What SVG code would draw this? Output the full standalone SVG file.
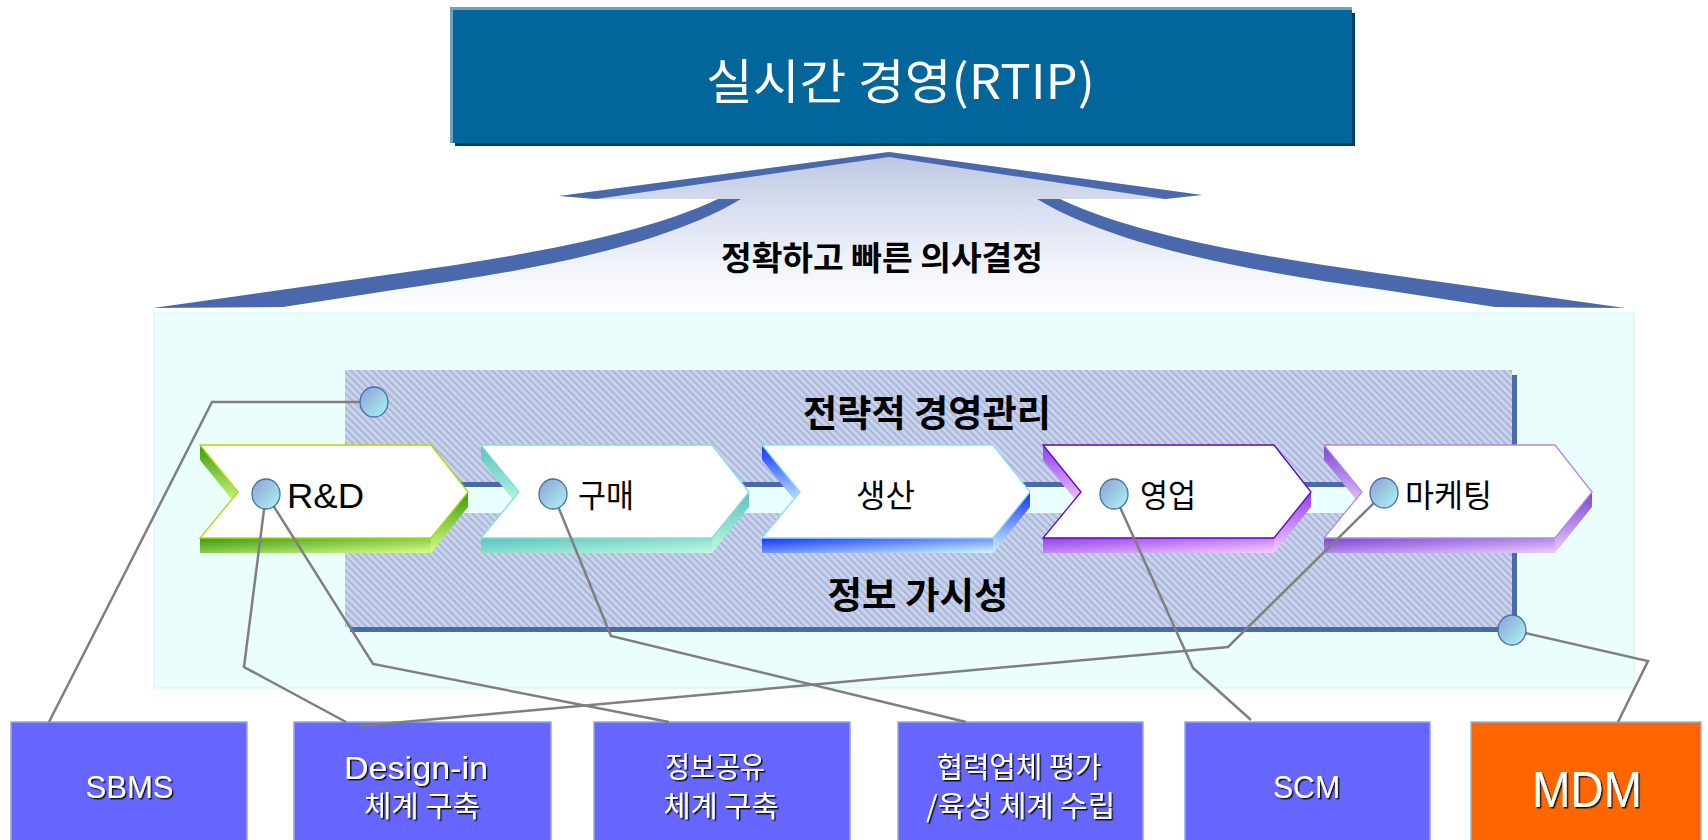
<svg xmlns="http://www.w3.org/2000/svg" width="1708" height="840" viewBox="0 0 1708 840">
<defs>
<style>
.kr { font-family: "Noto Sans CJK KR", "Liberation Sans", sans-serif; }
.lat { font-family: "Liberation Sans", "Noto Sans CJK KR", sans-serif; }
.conn { fill: none; stroke: #7F7F7F; stroke-width: 2.5; stroke-linejoin: miter; }
.dot { fill: url(#dotGrad); stroke: #4A6AAA; stroke-width: 1.3; }
.box { fill: #6666FF; stroke: #97A5EE; stroke-width: 1.5; }
.boxtxt { fill: #FFFFFF; filter: url(#tshadow); }
.band { fill: #4A69AD; }
.front { fill: #FFFFFF; stroke-width: 1.3; }
.bar { fill: #EAFFFF; }
.barTop { fill: #4A6AAA; }
</style>
<filter id="tshadow" x="-10%" y="-20%" width="125%" height="150%">
  <feDropShadow dx="1.5" dy="1.5" stdDeviation="0" flood-color="#000000" flood-opacity="0.85"/>
</filter>
<linearGradient id="arrowGrad" gradientUnits="userSpaceOnUse" x1="0" y1="152" x2="0" y2="310">
  <stop offset="0" stop-color="#BCC6E2"/>
  <stop offset="0.3" stop-color="#D4DBEE"/>
  <stop offset="0.7" stop-color="#F1F3FA"/>
  <stop offset="1" stop-color="#FFFFFF"/>
</linearGradient>
<linearGradient id="dotGrad" x1="0" y1="0" x2="1" y2="1">
  <stop offset="0" stop-color="#8AA0D4"/>
  <stop offset="1" stop-color="#AEF6F4"/>
</linearGradient>
<pattern id="hatch" patternUnits="userSpaceOnUse" width="5" height="10" patternTransform="rotate(-45)">
  <rect x="0" y="0" width="5" height="10" fill="#CAD3EA"/>
  <rect x="0" y="0" width="2" height="10" fill="#A9B7DC"/>
</pattern>
<!-- chevron gradients -->
<linearGradient id="gBandRD" x1="0" y1="0" x2="1" y2="1"><stop offset="0" stop-color="#3A9A10"/><stop offset="1" stop-color="#D8FF88"/></linearGradient>
<linearGradient id="gSideRD" x1="0" y1="0" x2="0" y2="1"><stop offset="0" stop-color="#3A9A10"/><stop offset="1" stop-color="#D8FF88"/></linearGradient>
<linearGradient id="gBandGM" x1="0" y1="0" x2="1" y2="1"><stop offset="0" stop-color="#55C2BE"/><stop offset="1" stop-color="#C2FAE0"/></linearGradient>
<linearGradient id="gSideGM" x1="0" y1="0" x2="0" y2="1"><stop offset="0" stop-color="#55C2BE"/><stop offset="1" stop-color="#C2FAE0"/></linearGradient>
<linearGradient id="gBandSS" x1="0" y1="0" x2="1" y2="1"><stop offset="0" stop-color="#1030FF"/><stop offset="1" stop-color="#D0F8FF"/></linearGradient>
<linearGradient id="gSideSS" x1="0" y1="0" x2="0" y2="1"><stop offset="0" stop-color="#1030FF"/><stop offset="1" stop-color="#D0F8FF"/></linearGradient>
<linearGradient id="gBandYU" x1="0" y1="0" x2="1" y2="1"><stop offset="0" stop-color="#9040E8"/><stop offset="1" stop-color="#F6CCFF"/></linearGradient>
<linearGradient id="gSideYU" x1="0" y1="0" x2="0" y2="1"><stop offset="0" stop-color="#9040E8"/><stop offset="1" stop-color="#F6CCFF"/></linearGradient>
<linearGradient id="gBandMK" x1="0" y1="0" x2="1" y2="1"><stop offset="0" stop-color="#7A44D2"/><stop offset="1" stop-color="#EACCFF"/></linearGradient>
<linearGradient id="gSideMK" x1="0" y1="0" x2="0" y2="1"><stop offset="0" stop-color="#7A44D2"/><stop offset="1" stop-color="#EACCFF"/></linearGradient>
</defs>

<rect x="0" y="0" width="1708" height="840" fill="#FFFFFF"/>

<!-- Top box -->
<g id="rtip">
  <rect x="455" y="13" width="900" height="133" fill="#033E62"/>
  <rect x="450" y="7" width="902" height="136" fill="#6AA2C3"/>
  <rect x="453" y="10" width="899" height="133" fill="#03669A"/>
  <text class="kr" x="900.5" y="99" font-size="48" fill="#FFFFFF" text-anchor="middle" textLength="389" lengthAdjust="spacingAndGlyphs">실시간 경영(RTIP)</text>
</g>

<!-- Big arrow -->
<g id="decision-arrow">
  <path d="M889,152 L1202,195 L1165,199 L1037,199 C1118,248 1258,272 1378,289 L1495,307 L1625,310 L153,310 L283,307 L400,289 C520,272 660,248 741,199 L596,199 L559,196 Z" fill="url(#arrowGrad)"/>
  <path class="band" d="M559,196 L889,152 L1202,195 L1165,199 L889,157 L596,199 Z"/>
  <path class="band" d="M153,308 L400,273 C520,256 640,236 718,199 L741,199 C660,248 520,272 400,289 L283,307 Z"/>
  <path class="band" d="M1625,308 L1378,273 C1258,256 1138,236 1060,199 L1037,199 C1118,248 1258,272 1378,289 L1495,307 Z"/>
  <text class="kr" x="882" y="270" font-size="33" font-weight="bold" fill="#000000" text-anchor="middle" textLength="322" lengthAdjust="spacingAndGlyphs">정확하고 빠른 의사결정</text>
</g>

<!-- Cyan panel -->
<g id="panel">
  <rect x="154" y="313" width="1480" height="375" fill="#EAFEFE" stroke="#CDF6FA" stroke-width="1"/>
</g>

<!-- Hatched management area -->
<g id="mgmt-area">
  <rect x="350" y="375" width="1167" height="257" fill="#4A6AAA"/>
  <rect x="345" y="370" width="1167" height="257" fill="url(#hatch)"/>
  <text class="kr" x="927" y="427" font-size="37" font-weight="bold" fill="#000000" text-anchor="middle" textLength="248" lengthAdjust="spacingAndGlyphs">전략적 경영관리</text>
  <text class="kr" x="918" y="609" font-size="37" font-weight="bold" fill="#000000" text-anchor="middle" textLength="181" lengthAdjust="spacingAndGlyphs">정보 가시성</text>
</g>

<!-- connecting bars between chevrons -->
<g id="chain-bars">
  <rect class="barTop" x="425" y="482" width="101" height="5"/>
  <rect class="bar" x="425" y="487" width="101" height="26"/>
  <rect class="barTop" x="706" y="482" width="101" height="5"/>
  <rect class="bar" x="706" y="487" width="101" height="26"/>
  <rect class="barTop" x="987" y="482" width="101" height="5"/>
  <rect class="bar" x="987" y="487" width="101" height="26"/>
  <rect class="barTop" x="1268" y="482" width="101" height="5"/>
  <rect class="bar" x="1268" y="487" width="101" height="26"/>
</g>

<!-- Chevrons -->
<g id="chev-rnd" transform="translate(200,0)">
  <path d="M0,445 L38,492 L38,507 L0,460 Z" fill="url(#gSideRD)"/>
  <path d="M0,538 L231,538 L231,553 L0,553 Z" fill="url(#gBandRD)"/>
  <path d="M231,538 L268,492 L268,507 L231,553 Z" fill="url(#gSideRD)"/>
  <path class="front" d="M0,445 L231,445 L268,492 L231,538 L0,538 L38,492 Z" stroke="#AADD00"/>
  <text class="lat" x="87" y="508" font-size="35" fill="#000000" textLength="77" lengthAdjust="spacingAndGlyphs">R&amp;D</text>
</g>
<g id="chev-purchase" transform="translate(481,0)">
  <path d="M0,445 L38,492 L38,507 L0,460 Z" fill="url(#gSideGM)"/>
  <path d="M0,538 L231,538 L231,553 L0,553 Z" fill="url(#gBandGM)"/>
  <path d="M231,538 L268,492 L268,507 L231,553 Z" fill="url(#gSideGM)"/>
  <path class="front" d="M0,445 L231,445 L268,492 L231,538 L0,538 L38,492 Z" stroke="#88DCDC"/>
  <text class="kr" x="125" y="507" font-size="32" fill="#000000" text-anchor="middle" textLength="56" lengthAdjust="spacingAndGlyphs">구매</text>
</g>
<g id="chev-production" transform="translate(762,0)">
  <path d="M0,445 L38,492 L38,507 L0,460 Z" fill="url(#gSideSS)"/>
  <path d="M0,538 L231,538 L231,553 L0,553 Z" fill="url(#gBandSS)"/>
  <path d="M231,538 L268,492 L268,507 L231,553 Z" fill="url(#gSideSS)"/>
  <path class="front" d="M0,445 L231,445 L268,492 L231,538 L0,538 L38,492 Z" stroke="#88DDFF"/>
  <text class="kr" x="123.5" y="507" font-size="32" fill="#000000" text-anchor="middle" textLength="59" lengthAdjust="spacingAndGlyphs">생산</text>
</g>
<g id="chev-sales" transform="translate(1043,0)">
  <path d="M0,445 L38,492 L38,507 L0,460 Z" fill="url(#gSideYU)"/>
  <path d="M0,538 L231,538 L231,553 L0,553 Z" fill="url(#gBandYU)"/>
  <path d="M231,538 L268,492 L268,507 L231,553 Z" fill="url(#gSideYU)"/>
  <path class="front" d="M0,445 L231,445 L268,492 L231,538 L0,538 L38,492 Z" stroke="#6600CC"/>
  <text class="kr" x="125" y="507" font-size="32" fill="#000000" text-anchor="middle" textLength="56" lengthAdjust="spacingAndGlyphs">영업</text>
</g>
<g id="chev-marketing" transform="translate(1324,0)">
  <path d="M0,445 L38,492 L38,507 L0,460 Z" fill="url(#gSideMK)"/>
  <path d="M0,538 L231,538 L231,553 L0,553 Z" fill="url(#gBandMK)"/>
  <path d="M231,538 L268,492 L268,507 L231,553 Z" fill="url(#gSideMK)"/>
  <path class="front" d="M0,445 L231,445 L268,492 L231,538 L0,538 L38,492 Z" stroke="#B088F0"/>
  <text class="kr" x="124.5" y="507" font-size="32" fill="#000000" text-anchor="middle" textLength="87" lengthAdjust="spacingAndGlyphs">마케팅</text>
</g>

<!-- Bottom boxes -->
<g id="box-sbms">
  <rect class="box" x="11" y="722" width="236" height="122"/>
  <text class="lat boxtxt" x="129.5" y="798" font-size="31" text-anchor="middle" textLength="88" lengthAdjust="spacingAndGlyphs">SBMS</text>
</g>
<g id="box-designin">
  <rect class="box" x="294" y="722" width="257" height="122"/>
  <text class="lat boxtxt" x="416" y="779" font-size="32" text-anchor="middle" textLength="144" lengthAdjust="spacingAndGlyphs">Design-in</text>
  <text class="kr boxtxt" x="422" y="817" font-size="29" text-anchor="middle" textLength="116" lengthAdjust="spacingAndGlyphs">체계 구축</text>
</g>
<g id="box-infoshare">
  <rect class="box" x="594" y="722" width="256" height="122"/>
  <text class="kr boxtxt" x="715" y="778" font-size="29" text-anchor="middle" textLength="100" lengthAdjust="spacingAndGlyphs">정보공유</text>
  <text class="kr boxtxt" x="721" y="817" font-size="29" text-anchor="middle" textLength="115" lengthAdjust="spacingAndGlyphs">체계 구축</text>
</g>
<g id="box-partner">
  <rect class="box" x="898" y="722" width="245" height="122"/>
  <text class="kr boxtxt" x="1019" y="778" font-size="29" text-anchor="middle" textLength="165" lengthAdjust="spacingAndGlyphs">협력업체 평가</text>
  <text class="kr boxtxt" x="1020.5" y="817" font-size="29" text-anchor="middle" textLength="189" lengthAdjust="spacingAndGlyphs">/육성 체계 수립</text>
</g>
<g id="box-scm">
  <rect class="box" x="1185" y="722" width="245" height="122"/>
  <text class="lat boxtxt" x="1306.5" y="798" font-size="31" text-anchor="middle" textLength="67" lengthAdjust="spacingAndGlyphs">SCM</text>
</g>
<g id="box-mdm">
  <rect x="1471" y="722" width="230" height="122" fill="#FF6600" stroke="#9FB2D8" stroke-width="1.5"/>
  <text class="lat boxtxt" x="1587" y="807" font-size="50" text-anchor="middle" textLength="110" lengthAdjust="spacingAndGlyphs">MDM</text>
</g>

<!-- Connectors -->
<g id="connectors">
  <polyline class="conn" points="374,402 212,402 49,722"/>
  <polyline class="conn" points="266,494 244,667 346,722"/>
  <polyline class="conn" points="266,494 373,664 669,722"/>
  <polyline class="conn" points="553,494 611,636 966,722"/>
  <polyline class="conn" points="1114,494 1193,668 1251,720"/>
  <polyline class="conn" points="1384,493 1228,647 359,726"/>
  <polyline class="conn" points="1512,630 1648,661 1618,722"/>
</g>

<!-- Connection dots -->
<g id="dots">
  <ellipse class="dot" cx="374" cy="402" rx="14" ry="15"/>
  <ellipse class="dot" cx="266" cy="494" rx="14" ry="15"/>
  <ellipse class="dot" cx="553" cy="494" rx="14" ry="15"/>
  <ellipse class="dot" cx="1114" cy="494" rx="14" ry="15"/>
  <ellipse class="dot" cx="1384" cy="493" rx="14" ry="15"/>
  <ellipse class="dot" cx="1512" cy="630" rx="14" ry="15"/>
</g>
</svg>
